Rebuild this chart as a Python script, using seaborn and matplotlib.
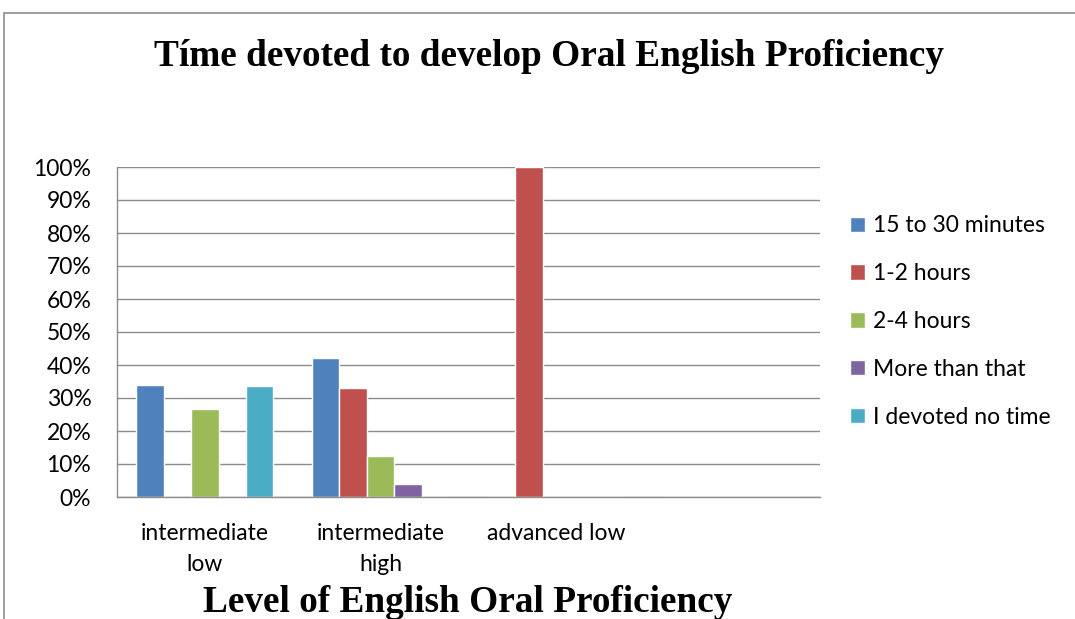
import matplotlib
matplotlib.use("Agg")
import matplotlib.pyplot as plt
import seaborn as sns
import pandas as pd
from matplotlib.patches import Rectangle
from matplotlib.ticker import PercentFormatter

categories = ["intermediate\nlow", "intermediate\nhigh", "advanced low", " "]
series = ["15 to 30 minutes", "1-2 hours", "2-4 hours", "More than that", "I devoted no time"]
v_15_30 = [0.34, 0.42, 0.0, 0.0]
v_1_2 = [0.0, 0.33, 1.0, 0.0]
v_2_4 = [0.267, 0.125, 0.0, 0.0]
v_more = [0.0, 0.04, 0.0, 0.0]
v_none = [0.335, 0.0, 0.0, 0.0]
colors = ["#4F81BD", "#C0504D", "#9BBB59", "#8064A2", "#4BACC6"]

rows = []
for s, vals in zip(series, [v_15_30, v_1_2, v_2_4, v_more, v_none]):
    for c, v in zip(categories, vals):
        rows.append({"level": c, "time": s, "value": v})
df = pd.DataFrame(rows)

sns.set_style("white")
plt.rcParams["font.family"] = ["Lato", "DejaVu Sans"]
plt.rcParams["text.color"] = "black"

fig = plt.figure(figsize=(10.75, 6.19), dpi=100)
ax = fig.add_axes([117/1075, 1-497/619, (820-117)/1075, (497-167)/619])

sns.barplot(data=df, x="level", y="value", hue="time", order=categories,
            hue_order=series, palette=colors, width=0.78, saturation=1,
            ax=ax, legend=True, errorbar=None)

ax.set_ylim(0, 1)
ax.set_xlim(-0.5, 3.5)
ax.set_yticks([i/10 for i in range(11)])
ax.yaxis.set_major_formatter(PercentFormatter(1.0, decimals=0))
ax.yaxis.grid(True, color="#8C8C8C", linewidth=1.0)
ax.set_axisbelow(True)
ax.tick_params(axis="y", length=6.5, color="#8C8C8C", width=1, labelsize=16.5,
               pad=12, labelcolor="black")

ax.set_xticks([-0.5, 0.5, 1.5, 2.5, 3.5])
ax.set_xticklabels([])
ax.set_xticks([0, 1, 2, 3], minor=True)
ax.set_xticklabels(categories, minor=True, fontsize=16.5, linespacing=1.62)
ax.tick_params(axis="x", which="major", length=6, color="#8C8C8C", width=1, direction="out")
ax.tick_params(axis="x", which="minor", length=0, pad=18.5, labelcolor="black")
ax.set_xlabel("")
ax.set_ylabel("")

for side in ["top", "right"]:
    ax.spines[side].set_visible(False)
for side in ["left", "bottom"]:
    ax.spines[side].set_color("#8C8C8C")
    ax.spines[side].set_linewidth(1)

handles, labels = ax.get_legend_handles_labels()
leg = ax.legend(handles, labels, loc="center left", bbox_to_anchor=(850/1075, 1-321.5/619),
                bbox_transform=fig.transFigure, frameon=False, fontsize=16.5,
                handlelength=0.65, handleheight=0.65, handletextpad=0.35,
                labelspacing=1.17, borderpad=0, borderaxespad=0)
for t in leg.get_texts():
    t.set_color("black")

fig.text(549/1075, 1-57/619, "Tíme devoted to develop Oral English Proficiency",
         ha="center", va="center", fontsize=26.8, fontweight="bold", color="black",
         family=["Liberation Serif", "DejaVu Serif"])
fig.text(468/1075, 1-603/619, "Level of English Oral Proficiency",
         ha="center", va="center", fontsize=26.8, fontweight="bold", color="black",
         family=["Liberation Serif", "DejaVu Serif"])

fig.patches.append(Rectangle((4/1075, -0.1), 1.2, 1-13/619+0.1, transform=fig.transFigure,
                             fill=False, edgecolor="#8C8C8C", linewidth=1.2))

fig.savefig("out.png", dpi=100)
